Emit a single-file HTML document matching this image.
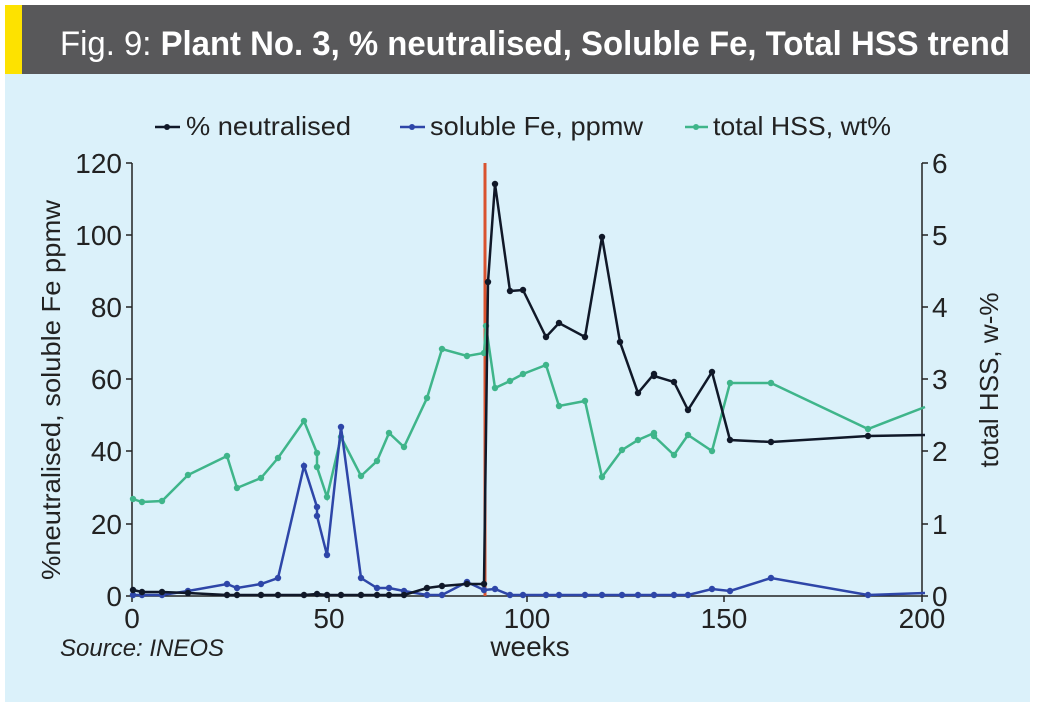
<!DOCTYPE html><html><head><style>body{margin:0;background:#fff}svg{display:block}</style></head><body>
<svg width="1037" height="709" xmlns="http://www.w3.org/2000/svg" font-family="Liberation Sans Narrow, Liberation Sans, sans-serif">
<rect x="5" y="5" width="1025" height="697" fill="#dbf1fa"/>
<rect x="5" y="5" width="1025" height="69" fill="#58585a"/>
<rect x="5" y="5" width="17" height="69" fill="#fde200"/>
<text x="60" y="55" font-size="34" fill="#fff" textLength="950" lengthAdjust="spacingAndGlyphs"><tspan font-weight="normal">Fig. 9: </tspan><tspan font-weight="bold">Plant No. 3, % neutralised, Soluble Fe, Total HSS trend</tspan></text>
<g font-size="26" fill="#222">
<line x1="155" y1="127" x2="180" y2="127" stroke="#101828" stroke-width="2.5"/><circle cx="167" cy="127" r="3" fill="#101828"/>
<text x="186" y="135" textLength="165" lengthAdjust="spacingAndGlyphs">% neutralised</text>
<line x1="400" y1="127" x2="425" y2="127" stroke="#2e46a8" stroke-width="2.5"/><circle cx="412" cy="127" r="3" fill="#2e46a8"/>
<text x="430" y="135" textLength="213" lengthAdjust="spacingAndGlyphs">soluble Fe, ppmw</text>
<line x1="685" y1="127" x2="708" y2="127" stroke="#3fb58a" stroke-width="2.5"/><circle cx="696" cy="127" r="3" fill="#3fb58a"/>
<text x="713" y="135" textLength="178" lengthAdjust="spacingAndGlyphs">total HSS, wt%</text>
</g>
<g stroke="#222" stroke-width="1.5" fill="none">
<line x1="132" y1="163" x2="132" y2="596"/><line x1="922" y1="163" x2="922" y2="596"/><line x1="132" y1="596" x2="922" y2="596"/>
<path d="M126 163H132M126 235H132M126 307H132M126 379H132M126 451H132M126 524H132M126 596H132"/>
<path d="M922 163H928M922 235H928M922 307H928M922 379H928M922 451H928M922 524H928M922 596H928"/>
<path d="M132 596V602M329 596V602M527 596V602M724 596V602M922 596V602"/>
</g>
<g font-size="28" fill="#222" text-anchor="end">
<text x="122" y="173">120</text><text x="122" y="245">100</text><text x="122" y="317">80</text><text x="122" y="389">60</text><text x="122" y="461">40</text><text x="122" y="534">20</text><text x="122" y="606">0</text>
</g>
<g font-size="28" fill="#222">
<text x="932" y="173">6</text><text x="932" y="245">5</text><text x="932" y="317">4</text><text x="932" y="389">3</text><text x="932" y="461">2</text><text x="932" y="534">1</text><text x="932" y="606">0</text>
</g>
<g font-size="28" fill="#222" text-anchor="middle">
<text x="132" y="628">0</text><text x="329" y="628">50</text><text x="527" y="628">100</text><text x="724" y="628">150</text><text x="922" y="628">200</text>
<text x="530" y="656">weeks</text>
</g>
<text x="60" y="656" font-size="24" font-style="italic" fill="#222">Source: INEOS</text>
<text transform="translate(60,390) rotate(-90)" font-size="26" fill="#222" text-anchor="middle" textLength="380" lengthAdjust="spacingAndGlyphs">%neutralised, soluble Fe ppmw</text>
<text transform="translate(998,380) rotate(-90)" font-size="26" fill="#222" text-anchor="middle" textLength="175" lengthAdjust="spacingAndGlyphs">total HSS, w-%</text>
<line x1="485" y1="163" x2="485" y2="596" stroke="#d9532f" stroke-width="3"/>
<defs>
<marker id="g" markerWidth="8" markerHeight="8" refX="4" refY="4" markerUnits="userSpaceOnUse"><circle cx="4" cy="4" r="3.2" fill="#3fb58a"/></marker>
<marker id="b" markerWidth="8" markerHeight="8" refX="4" refY="4" markerUnits="userSpaceOnUse"><circle cx="4" cy="4" r="3.2" fill="#2e46a8"/></marker>
<marker id="k" markerWidth="8" markerHeight="8" refX="4" refY="4" markerUnits="userSpaceOnUse"><circle cx="4" cy="4" r="3.2" fill="#101828"/></marker>
</defs>
<polyline fill="none" stroke="#3fb58a" stroke-width="2.5" marker-start="url(#g)" marker-mid="url(#g)" points="133,499 142,502 162,501 188,475 227,456 237,488 261,478 278,458 304,421 317,453 317,467 327,497 341,437 361,476 377,461 389,433 404,447 427,398 442,349 467,356 484,353 486,326 495,388 510,381 523,374 546,365 559,406 585,401 602,477 622,450 638,440 654,433 654,436 674,455 688,435 712,451 730,383 771,383 868,429 925,407"/>
<polyline fill="none" stroke="#2e46a8" stroke-width="2.5" marker-start="url(#b)" marker-mid="url(#b)" points="133,595 142,595 162,595 188,591 227,584 237,588 261,584 278,578 304,466 317,507 317,516 327,555 341,427 361,578 377,588 389,588 404,591 427,595 442,595 467,582 484,590 495,589 510,595 523,595 546,595 559,595 585,595 602,595 622,595 638,595 654,595 674,595 688,595 712,589 730,591 771,578 868,595 925,593"/>
<polyline fill="none" stroke="#101828" stroke-width="2.5" marker-start="url(#k)" marker-mid="url(#k)" points="133,590 142,592 162,592 188,593 227,595 237,595 261,595 278,595 304,595 317,594 327,595 341,595 361,595 377,595 389,595 404,595 427,588 442,586 467,584 484,584 488,282 495,184 510,291 523,290 546,337 559,323 585,337 602,237 620,342 638,393 654,374 654,376 674,382 688,410 712,372 730,440 771,442 868,436 925,435"/>
</svg>
</body></html>
